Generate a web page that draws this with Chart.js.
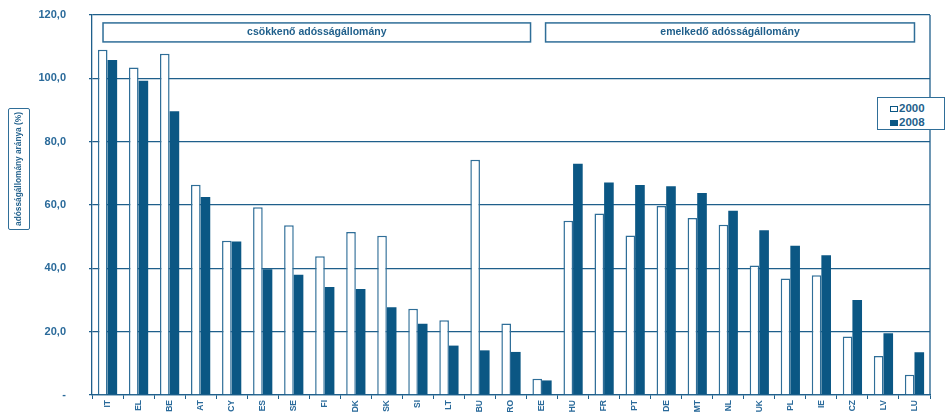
<!DOCTYPE html>
<html>
<head>
<meta charset="utf-8">
<script src="https://cdn.jsdelivr.net/npm/chart.js@4/dist/chart.umd.min.js"></script>
<style>
  body { margin: 0; background: #fff; }
  #wrap { position: relative; width: 951px; height: 412px; }
  #legend {
    position: absolute; left: 877px; top: 97px; width: 68px; height: 33px;
    background: #fff; border: 1px solid #2f6e98; box-sizing: border-box;
    font: bold 11.5px "Liberation Sans", Arial, sans-serif; color: #1f5f8b;
    padding: 3px 0 0 12px; line-height: 14px;
  }
  #legend span.sw { display: inline-block; width: 8px; height: 6px; margin-right: 1px; box-sizing: border-box; border: 1.5px solid #0b5784; vertical-align: 0px; }
  #ytitle {
    position: absolute; left: 8px; top: 108px; width: 122px; height: 22px;
    transform-origin: 0 0; transform: translate(0, 122px) rotate(-90deg);
    border: 1.5px solid #2f6e98; border-radius: 2px; box-sizing: border-box;
    font: bold 8.3px "Liberation Sans", Arial, sans-serif; color: #1f5f8b;
    text-align: center; line-height: 19px; white-space: nowrap;
  }
</style>
</head>
<body>
<div id="wrap">
  <canvas id="chart" width="951" height="412"></canvas>
  <div id="ytitle">adósságállomány aránya (%)</div>
  <div id="legend">
    <div><span class="sw"></span>2000</div>
    <div><span class="sw" style="background:#0b5784"></span>2008</div>
  </div>
</div>
<script>
// Data
const categories = ['IT', 'EL', 'BE', 'AT', 'CY', 'ES', 'SE', 'FI', 'DK', 'SK', 'SI', 'LT', 'BU', 'RO', 'EE',
  'HU', 'FR', 'PT', 'DE', 'MT', 'NL', 'UK', 'PL', 'IE', 'CZ', 'LV', 'LU'];
const values2000 = [109.0, 103.4, 107.8, 66.4, 48.7, 59.3, 53.6, 43.8, 51.5, 50.3, 27.2, 23.6, 74.3, 22.6, 5.1,
  55.0, 57.3, 50.4, 59.7, 55.9, 53.8, 40.9, 36.8, 37.8, 18.5, 12.3, 6.4];
const values2008 = [105.8, 99.2, 89.6, 62.5, 48.5, 39.7, 38.0, 34.1, 33.5, 27.7, 22.5, 15.6, 14.1, 13.6, 4.6,
  73.0, 67.1, 66.3, 65.9, 63.8, 58.2, 52.0, 47.1, 44.1, 30.0, 19.5, 13.5];
const yTicks = [0, 20, 40, 60, 80, 100, 120];
const groupLabels = ['csökkenő adósságállomány', 'emelkedő adósságállomány'];

const blue = '#0b5784';
const lineBlue = '#1f5f8b';
const textBlue = '#2a6a9a';

// boxes with the group names + right frame line
const framePlugin = {
  id: 'frame',
  afterDatasetsDraw(chart) {
    const ctx = chart.ctx;
    const area = chart.chartArea;
    const x = chart.scales.x;
    const y = chart.scales.y;
    ctx.save();
    ctx.strokeStyle = lineBlue;
    ctx.lineWidth = 1.3;
    ctx.beginPath();
    ctx.moveTo(area.right, area.top);
    ctx.lineTo(area.right, area.bottom);
    ctx.stroke();

    const top = y.getPixelForValue(117.5);
    const h = 19;
    const boxes = [
      [x.getPixelForValue(0) - 4.5, x.getPixelForValue(14) - 11.5],
      [x.getPixelForValue(15) - 27.5, x.getPixelForValue(26)]
    ];
    ctx.font = 'bold 10.5px "Liberation Sans", Arial, sans-serif';
    ctx.textAlign = 'center';
    ctx.textBaseline = 'middle';
    boxes.forEach((b, i) => {
      ctx.fillStyle = '#fff';
      ctx.fillRect(b[0], top, b[1] - b[0], h);
      ctx.strokeStyle = '#2f6e98';
      ctx.lineWidth = 1.5;
      ctx.strokeRect(b[0], top, b[1] - b[0], h);
      ctx.fillStyle = lineBlue;
      ctx.fillText(groupLabels[i], (b[0] + b[1]) / 2, top + h / 2);
    });
    ctx.restore();
  }
};

new Chart(document.getElementById('chart'), {
  type: 'bar',
  data: {
    labels: categories,
    datasets: [
      {
        label: '2000',
        data: values2000,
        backgroundColor: '#fff',
        borderColor: '#2f6e98',
        borderWidth: 1.5,
        borderSkipped: 'bottom',
        categoryPercentage: 0.62,
        barPercentage: 1.0
      },
      {
        label: '2008',
        data: values2008,
        backgroundColor: blue,
        borderWidth: 0,
        categoryPercentage: 0.62,
        barPercentage: 1.0
      }
    ]
  },
  options: {
    responsive: false,
    animation: false,
    layout: { padding: { top: 15, right: 21, left: 0, bottom: 0 } },
    plugins: {
      legend: { display: false },
      tooltip: { enabled: false }
    },
    scales: {
      x: {
        grid: { display: true, drawOnChartArea: false, color: lineBlue, tickLength: 4, offset: true },
        border: { color: lineBlue, width: 1.3 },
        ticks: {
          color: textBlue,
          font: { family: '"Liberation Sans", Arial, sans-serif', size: 8.5, weight: 'bold' },
          maxRotation: 90,
          minRotation: 90,
          autoSkip: false,
          padding: 1
        },
        afterFit(axis) { axis.height = 17; axis.paddingLeft = 0; axis.paddingRight = 0; }
      },
      y: {
        min: 0,
        max: 120,
        afterBuildTicks(axis) { axis.ticks = yTicks.map(v => ({ value: v })); },
        grid: { color: lineBlue, lineWidth: 1.3, tickLength: 3 },
        border: { color: lineBlue, width: 1.3 },
        ticks: {
          color: textBlue,
          padding: 23,
          font: { family: '"Liberation Sans", Arial, sans-serif', size: 11, weight: 'bold' },
          callback: v => v === 0 ? '-' : v.toFixed(1).replace('.', ',')
        },
        afterFit(axis) { axis.width = 92; axis.paddingTop = 0; axis.paddingBottom = 0; }
      }
    }
  },
  plugins: [framePlugin]
});
</script>
</body>
</html>
